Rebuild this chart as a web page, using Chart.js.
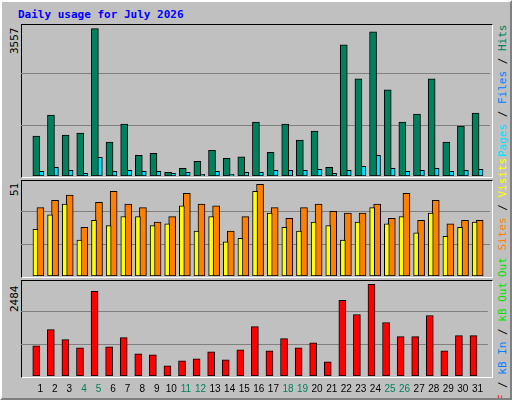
<!DOCTYPE html>
<html><head><meta charset="utf-8">
<script src="https://cdn.jsdelivr.net/npm/chart.js@4/dist/chart.umd.min.js"></script>
<style>
body{margin:0;background:#fff}
#wrap{position:absolute;left:0;top:0;width:508px;height:396px;background:#c0c0c0;border-left:2px solid #fff;border-top:2px solid #fff;border-right:2px solid #808080;border-bottom:2px solid #808080;overflow:hidden}
.panel{position:absolute;left:19px;width:470px;border-top:1px solid #000;border-left:1px solid #000;border-right:1px solid #fff;border-bottom:1px solid #fff}
canvas{position:absolute}
.t{position:absolute;font:bold 11px "DejaVu Sans Mono",monospace;color:#0000ff}
.rot{position:absolute;transform-origin:0 0;transform:rotate(-90deg);font:11px "DejaVu Sans Mono",monospace;white-space:nowrap}
</style></head><body>
<div id="wrap">
<div class="t" style="left:16px;top:6px">Daily usage for July 2026</div>
<div class="panel" style="top:22px;height:152px"></div>
<div class="panel" style="top:178px;height:96px"></div>
<div class="panel" style="top:278px;height:96px"></div>
<div class="rot" style="left:6px;top:52px;color:#000">3557</div>
<div class="rot" style="left:6px;top:194px;color:#000">51</div>
<div class="rot" style="left:6px;top:310px;color:#000">2484</div>
<div class="rot" style="left:494px;top:155px"><span style="color:#00e0ff">Pages</span> / <span style="color:#0080ff">Files</span> / <span style="color:#00805c">Hits</span></div>
<div class="rot" style="left:494px;top:275px"><span style="color:#00e000">Out</span> <span style="color:#ff8000">Sites</span> / <span style="color:#ffff00">Visits</span></div>
<div class="rot" style="left:494px;top:419px"><span style="color:#ff0000">kB F</span> / <span style="color:#0080ff">kB In</span> / <span style="color:#00e000">kB Out</span></div>
</div>
<canvas id="c1" style="left:21px;top:25px;width:469px;height:151px" width="469" height="151"></canvas>
<canvas id="c2" style="left:21px;top:181px;width:469px;height:95px" width="469" height="95"></canvas>
<canvas id="c3" style="left:21px;top:281px;width:469px;height:115px" width="469" height="115"></canvas>
<script>
const days=[1,2,3,4,5,6,7,8,9,10,11,12,13,14,15,16,17,18,19,20,21,22,23,24,25,26,27,28,29,30,31];
const weekend=[4,5,11,12,18,19,25,26];
const hits=[962,1471,986,1035,3557,817,1253,501,550,89,186,356,622,428,461,1302,574,1253,865,1083,210,3169,2344,3484,2078,1302,1496,2344,817,1205,1520];
const files=[113,210,137,65,453,113,137,113,113,65,89,40,113,40,89,89,137,137,137,162,65,137,234,501,186,113,137,186,113,137,162];
const pages=[20,25,20,15,30,20,22,18,18,12,15,10,18,10,15,15,20,20,20,22,12,20,28,35,25,18,20,25,18,20,22];
const visits=[26,34,40,20,31,28,33,33,28,29,39,25,33,19,21,47,35,27,25,30,28,20,30,38,29,33,24,35,22,27,30];
const sites=[38,42,45,27,41,47,40,38,30,33,46,40,39,25,33,51,38,32,38,40,36,35,35,40,32,46,31,42,29,31,31];
const kbF=[819,1256,983,764,2293,792,1037,601,573,273,409,464,655,437,710,1338,682,1010,764,901,382,2047,1665,2484,1447,1065,1065,1638,682,1092,1092];
const maxHits=3557, maxSites=51, maxKB=2484;

const pts=(arr,off)=>arr.map((v,i)=>({x:days[i]+off,y:v}));
function ds(data,off,color,th){return {data:pts(data,off),backgroundColor:color,borderColor:'#000',borderWidth:1,barThickness:th,borderSkipped:false,grouped:false};}
function yScale(max,frac){return {min:0,max:max*frac,border:{display:false},ticks:{display:false},
  grid:{color:'#808080',lineWidth:1,drawTicks:false},
  afterBuildTicks:s=>{s.ticks=[{value:max*frac*0.332},{value:max*frac*0.68}];}};}
function xScale(show){return {type:'linear',min:0.2,max:31.2,display:show,grid:{display:false,drawTicks:false},border:{display:false},
  afterBuildTicks:s=>{s.ticks=days.map(v=>({value:v}));},
  afterFit:s=>{if(show)s.height=20;},
  ticks:{autoSkip:false,maxRotation:0,padding:7,font:{family:'Liberation Sans',size:10},
    callback:(v,i)=>String(days[i]),
    color:c=>weekend.includes(days[c.index])?'#00805c':'#000'}};}
const base={responsive:false,animation:false,events:[],plugins:{legend:{display:false},tooltip:{enabled:false}},layout:{padding:0}};
new Chart(document.getElementById('c1'),{type:'bar',data:{datasets:[ds(hits,-0.27,'#00805c',7),ds(files,0,'#00e0ff',7),ds(pages,-0.32,'#0000ff',2)]},
  options:{...base,scales:{x:xScale(false),y:yScale(maxHits,1.025)}}});
new Chart(document.getElementById('c2'),{type:'bar',data:{datasets:[ds(visits,-0.33,'#ffff00',5),ds(sites,0.01,'#ff8000',7)]},
  options:{...base,scales:{x:xScale(false),y:yScale(maxSites,1.035)}}});
new Chart(document.getElementById('c3'),{type:'bar',data:{datasets:[ds(kbF,-0.27,'#ff0000',7)]},
  options:{...base,scales:{x:xScale(true),y:yScale(maxKB,1.035)}}});
</script></body></html>
